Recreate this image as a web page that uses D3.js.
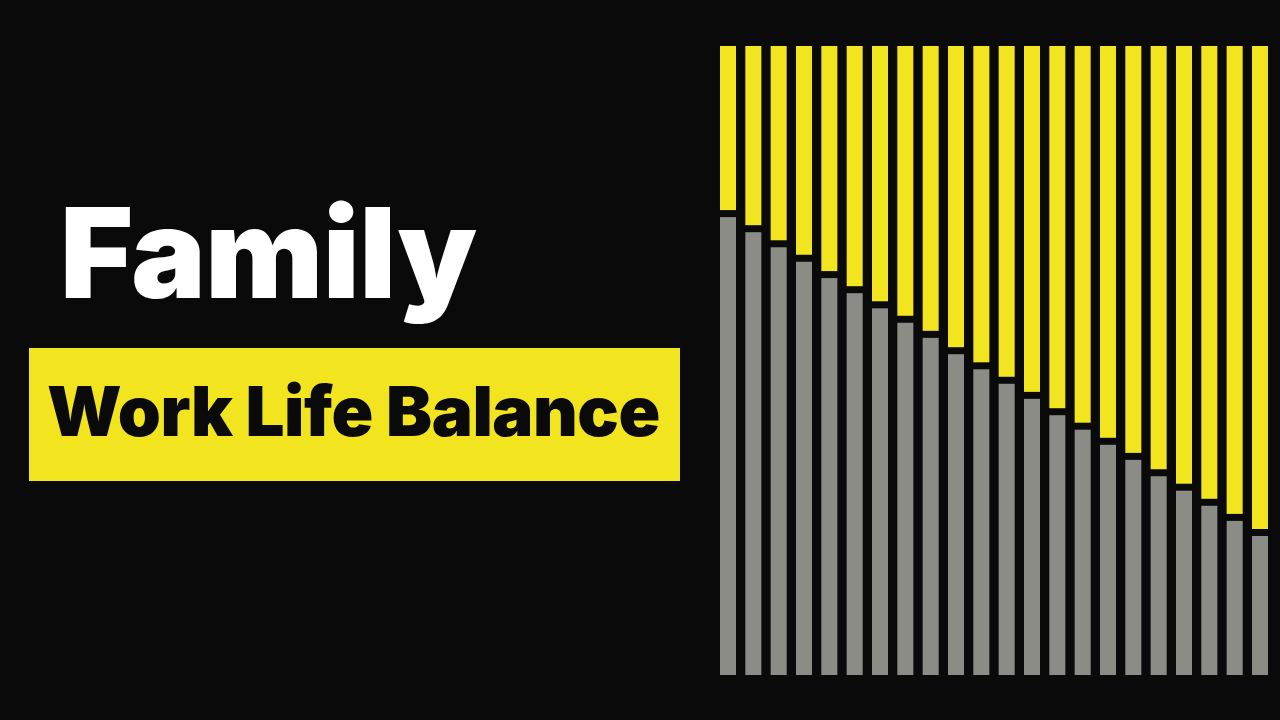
<!DOCTYPE html>
<html>
<head>
<meta charset="utf-8">
<script src="https://cdn.jsdelivr.net/npm/d3@7"></script>
<style>
  html, body { margin: 0; padding: 0; background: #0a0a0a; }
  svg { display: block; }
</style>
</head>
<body>
<div id="chart"></div>
<script>
// share of each column (gray = work, yellow = life)
let categories = d3.range(1, 23).map(d => "P" + d);
let work = [72.8, 70.4, 68.0, 65.7, 63.1, 60.7, 58.3, 56.0, 53.6, 51.0, 48.6,
            46.3, 43.9, 41.3, 39.0, 36.6, 34.2, 31.6, 29.3, 26.9, 24.5, 22.1];
let life = work.map(w => 100 - w);

let width = 1280;
let height = 720;
let gap = 7;

let svg = d3.select("#chart")
    .append("svg")
    .attr("width", width)
    .attr("height", height);

svg.append("rect")
    .attr("width", width)
    .attr("height", height)
    .attr("fill", "#0a0a0a");

let x = d3.scaleBand()
    .domain(categories)
    .range([720, 1268])
    .paddingInner(0.368)
    .paddingOuter(0);

let y = d3.scaleLinear()
    .domain([0, 100])
    .range([675, 46]);

let bars = svg.selectAll(".bar")
    .data(categories.map((c, i) => ({name: c, work: work[i], life: life[i]})))
    .enter().append("g")
    .attr("class", "bar");

bars.append("rect")
    .attr("x", d => x(d.name))
    .attr("width", x.bandwidth())
    .attr("y", d => y(d.work))
    .attr("height", d => y(0) - y(d.work))
    .attr("fill", "#8c8c87");

bars.append("rect")
    .attr("x", d => x(d.name))
    .attr("width", x.bandwidth())
    .attr("y", d => y(d.work + d.life))
    .attr("height", d => y(d.work) - gap - y(d.work + d.life))
    .attr("fill", "#f2e41e");

// titles
svg.append("text")
    .attr("x", 60)
    .attr("y", 298)
    .attr("fill", "#ffffff")
    .style("font-family", "Inter, 'Noto Sans', sans-serif")
    .style("font-weight", 900)
    .style("font-size", "125px")
    .style("letter-spacing", "-0.5px")
    .text("Family");

svg.append("rect")
    .attr("x", 29)
    .attr("y", 348)
    .attr("width", 651)
    .attr("height", 133)
    .attr("fill", "#f2e41e");

svg.append("text")
    .attr("x", 47)
    .attr("y", 436)
    .attr("fill", "#0a0a0a")
    .style("font-family", "Inter, 'Noto Sans', sans-serif")
    .style("font-weight", 900)
    .style("font-size", "69px")
    .style("letter-spacing", "-0.5px")
    .text("Work Life Balance");
</script>
</body>
</html>
